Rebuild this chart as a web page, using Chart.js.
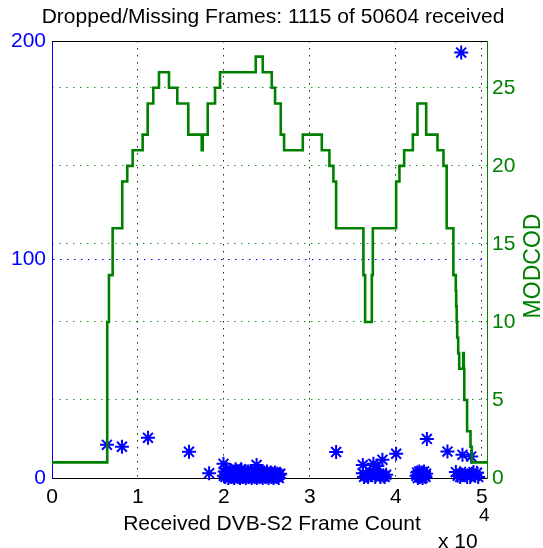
<!DOCTYPE html>
<html>
<head>
<meta charset="utf-8">
<script src="https://cdn.jsdelivr.net/npm/chart.js@4"></script>
<style>
  html, body { margin: 0; padding: 0; background: #ffffff; }
  canvas { display: block; }
</style>
</head>
<body>
<canvas id="c" width="543" height="548"></canvas>
<script>
// ---------- data ----------
const titleText = "Dropped/Missing Frames: 1115 of 50604 received";
const xLabel = "Received DVB-S2 Frame Count";
const rightLabel = "MODCOD";

const xTicks = [0, 10000, 20000, 30000, 40000, 50000];
const leftTicks = [0, 100, 200];
const rightTicks = [0, 5, 10, 15, 20, 25];

// MODCOD step series (frame at which level starts, level)
const modcodFrames = [0, 6426, 6624, 7055, 8172, 8754, 9383, 10547, 11129, 11781,
  12445, 13609, 14575, 15856, 17416, 17532, 18114, 18964, 19546, 23702,
  24517, 25565, 25949, 26612, 26997, 29173, 31385, 32270, 32736, 33050,
  36228, 36424, 37206, 37322, 40035, 40419, 40966, 41979, 42515, 43527,
  44843, 45541, 45914, 46694, 46973, 47020, 47078, 47136, 47253, 47369,
  47835, 47905, 47963, 48289, 48685, 48836, 50604];
const modcodLevels = [1, 10, 13, 16, 19, 20, 21, 22, 24, 25,
  26, 25, 24, 22, 21, 22, 24, 25, 26, 27,
  26, 25, 24, 22, 21, 22, 21, 20, 19, 16,
  13, 10, 13, 16, 19, 20, 21, 22, 24, 22,
  21, 20, 16, 13, 12, 11, 10, 9, 8, 7,
  8, 7, 5, 3, 2, 1, 1];

// dropped frame counts: isolated events
const dropFramesSparse = [6391, 8137, 11164, 15937, 18277, 33050, 40035, 43609,
  46006, 47752, 48765, 47602, 19950, 22000, 23800];
const dropCountsSparse = [15.2, 14.3, 18.4, 12.0, 2.2, 11.9, 11.1, 17.9,
  12.1, 10.6, 9.8, 194.7, 6.5, 4.0, 6.0];
// dense burst around 2.0e4 - 2.65e4
const dropFramesBurstA = [20000, 20085, 20170, 20255, 20340, 20425, 20510, 20595, 20680, 20765,
  20850, 20935, 21020, 21105, 21190, 21275, 21360, 21445, 21530, 21615,
  21700, 21785, 21870, 21955, 22040, 22125, 22210, 22295, 22380, 22465,
  22550, 22635, 22720, 22805, 22890, 22975, 23060, 23145, 23230, 23315,
  23400, 23485, 23570, 23655, 23740, 23825, 23910, 23995, 24080, 24165,
  24250, 24335, 24420, 24505, 24590, 24675, 24760, 24845, 24930, 25015,
  25100, 25185, 25270, 25355, 25440, 25525, 25610, 25695, 25780, 25865,
  25950, 26035, 26120, 26205, 26290, 26375, 26460, 26545];
const dropCountsBurstA = [1, 3, 0.5, 2, 4, 1.5, 0, 2.5, 1, 3.5,
  0.5, 2, 1, 3, 0, 2, 4, 1, 2.5, 0.5,
  3, 1.5, 0, 2, 3.5, 1, 0.5, 2.5, 1, 3,
  0, 2, 1.5, 3, 0.5, 2, 1, 2.5, 0, 3,
  1, 2, 0.5, 1.5, 3, 0, 2, 1, 2.5, 0.5,
  2, 1, 3, 0, 1.5, 2.5, 1, 0.5, 2, 3,
  1, 0, 2, 1.5, 2.5, 0.5, 1, 2, 0, 1.5,
  2.5, 1, 0.5, 2, 1, 0, 1.5, 2];
// burst around 3.6e4 - 3.9e4
const dropFramesBurstD = [36157, 36157, 36300, 36541, 36774, 37000, 37200, 37391, 37391,
  37600, 37857, 37700, 38054, 38200, 38439, 38520, 38700, 38869];
const dropCountsBurstD = [6.0, 2.2, 0.5, 1.0, 0.5, 3.0, 1.5, 6.5, 2.4,
  0.5, 5.6, 3.5, 2.0, 0.5, 8.3, 1.0, 0.5, 1.5];
// burst around 4.25e4 - 4.35e4
const dropFramesBurstB = [42400, 42480, 42560, 42640, 42720, 42800, 42880, 42960, 43040,
  43120, 43200, 43280, 43360, 43440, 43520];
const dropCountsBurstB = [1, 2.5, 0, 1.5, 3, 0.5, 2, 1, 2.5, 0, 1.5, 3, 1, 0.5, 2];
// burst around 4.7e4 - 4.96e4
const dropFramesBurstC = [46984, 47200, 47484, 47484, 47700, 48066, 48300, 48648, 48850,
  49032, 49250, 49428, 49580];
const dropCountsBurstC = [2.7, 1.0, 2.2, 0.5, 1.5, 1.9, 0.5, 0.5, 2.0, 2.7, 1.0, 2.4, 0.5];

const dropFrames = [].concat(dropFramesSparse, dropFramesBurstA, dropFramesBurstD, dropFramesBurstB, dropFramesBurstC);
const dropCounts = [].concat(dropCountsSparse, dropCountsBurstA, dropCountsBurstD, dropCountsBurstB, dropCountsBurstC);

// ---------- chart ----------
const FONT = "'Liberation Sans', Arial, sans-serif";
const GREEN = '#008000';
const BLUE = '#0000ff';

const textPlugin = {
  id: 'texts',
  afterDraw(chart) {
    const ctx = chart.ctx;
    const a = chart.chartArea;
    ctx.save();
    // top border
    ctx.strokeStyle = '#000';
    ctx.lineWidth = 1;
    ctx.beginPath();
    ctx.moveTo(a.left, Math.round(a.top) + 0.5);
    ctx.lineTo(a.right, Math.round(a.top) + 0.5);
    ctx.stroke();

    ctx.fillStyle = '#000';
    ctx.font = '21px ' + FONT;
    ctx.textAlign = 'center';
    ctx.textBaseline = 'alphabetic';
    ctx.fillText(titleText, 273, 23);
    ctx.fillText(xLabel, 272, 530);
    ctx.textAlign = 'left';
    ctx.fillText('x 10', 438, 548);
    ctx.font = '19px ' + FONT;
    ctx.fillText('4', 479, 521);

    // right axis label
    ctx.fillStyle = GREEN;
    ctx.font = '23px ' + FONT;
    ctx.translate(540, 266);
    ctx.rotate(-Math.PI / 2);
    ctx.textAlign = 'center';
    ctx.fillText(rightLabel, 0, 0);
    ctx.restore();
  }
};

new Chart(document.getElementById('c'), {
  data: {
    datasets: [
      {
        type: 'line',
        label: 'MODCOD',
        data: modcodFrames.map((f, i) => ({ x: f, y: modcodLevels[i] })),
        yAxisID: 'y1',
        stepped: 'before',
        borderColor: GREEN,
        borderWidth: 2.6,
        pointRadius: 0,
        fill: false
      },
      {
        type: 'scatter',
        label: 'Dropped',
        data: dropFrames.map((f, i) => ({ x: f, y: dropCounts[i] })),
        yAxisID: 'y',
        pointStyle: 'star',
        pointRadius: 7,
        borderColor: BLUE,
        backgroundColor: BLUE,
        borderWidth: 2,
        clip: false
      }
    ]
  },
  options: {
    responsive: false,
    animation: false,
    events: [],
    layout: { padding: { top: 41, left: 0, right: 0, bottom: 0 } },
    plugins: { legend: { display: false }, tooltip: { enabled: false }, title: { display: false } },
    scales: {
      x: {
        type: 'linear',
        position: 'bottom',
        min: 0,
        max: 50604,
        afterBuildTicks: s => { s.ticks = xTicks.map(v => ({ value: v })); },
        afterFit: s => { s.height = 70; },
        ticks: {
          callback: v => String(v / 10000),
          color: '#000',
          font: { family: FONT, size: 21 },
          padding: 7,
          maxRotation: 0,
          autoSkip: false
        },
        grid: {
          color: c => (c.tick && c.tick.value === 0) ? 'rgba(0,0,0,0)' : '#222',
          lineWidth: 1,
          drawTicks: false
        },
        border: { color: '#000', width: 1, dash: [1.5, 5.5] }
      },
      y: {
        type: 'linear',
        position: 'left',
        min: 0,
        max: 200,
        afterBuildTicks: s => { s.ticks = leftTicks.map(v => ({ value: v })); },
        afterFit: s => { s.width = 52; },
        ticks: { color: BLUE, font: { family: FONT, size: 21 }, padding: 6 },
        grid: {
          color: c => (c.tick && c.tick.value === 100) ? BLUE : 'rgba(0,0,0,0)',
          lineWidth: 1,
          drawTicks: false
        },
        border: { color: BLUE, width: 1, dash: [1.5, 5.5] }
      },
      y1: {
        type: 'linear',
        position: 'right',
        min: 0,
        max: 28,
        afterBuildTicks: s => { s.ticks = rightTicks.map(v => ({ value: v })); },
        afterFit: s => { s.width = 56; },
        ticks: { color: GREEN, font: { family: FONT, size: 21 }, padding: 5 },
        grid: {
          color: c => (c.tick && c.tick.value === 0) ? 'rgba(0,0,0,0)' : 'rgba(0,128,0,0.85)',
          lineWidth: 1,
          drawTicks: false
        },
        border: { color: GREEN, width: 1, dash: [1.5, 5.5] }
      }
    }
  },
  plugins: [textPlugin]
});
</script>
</body>
</html>
